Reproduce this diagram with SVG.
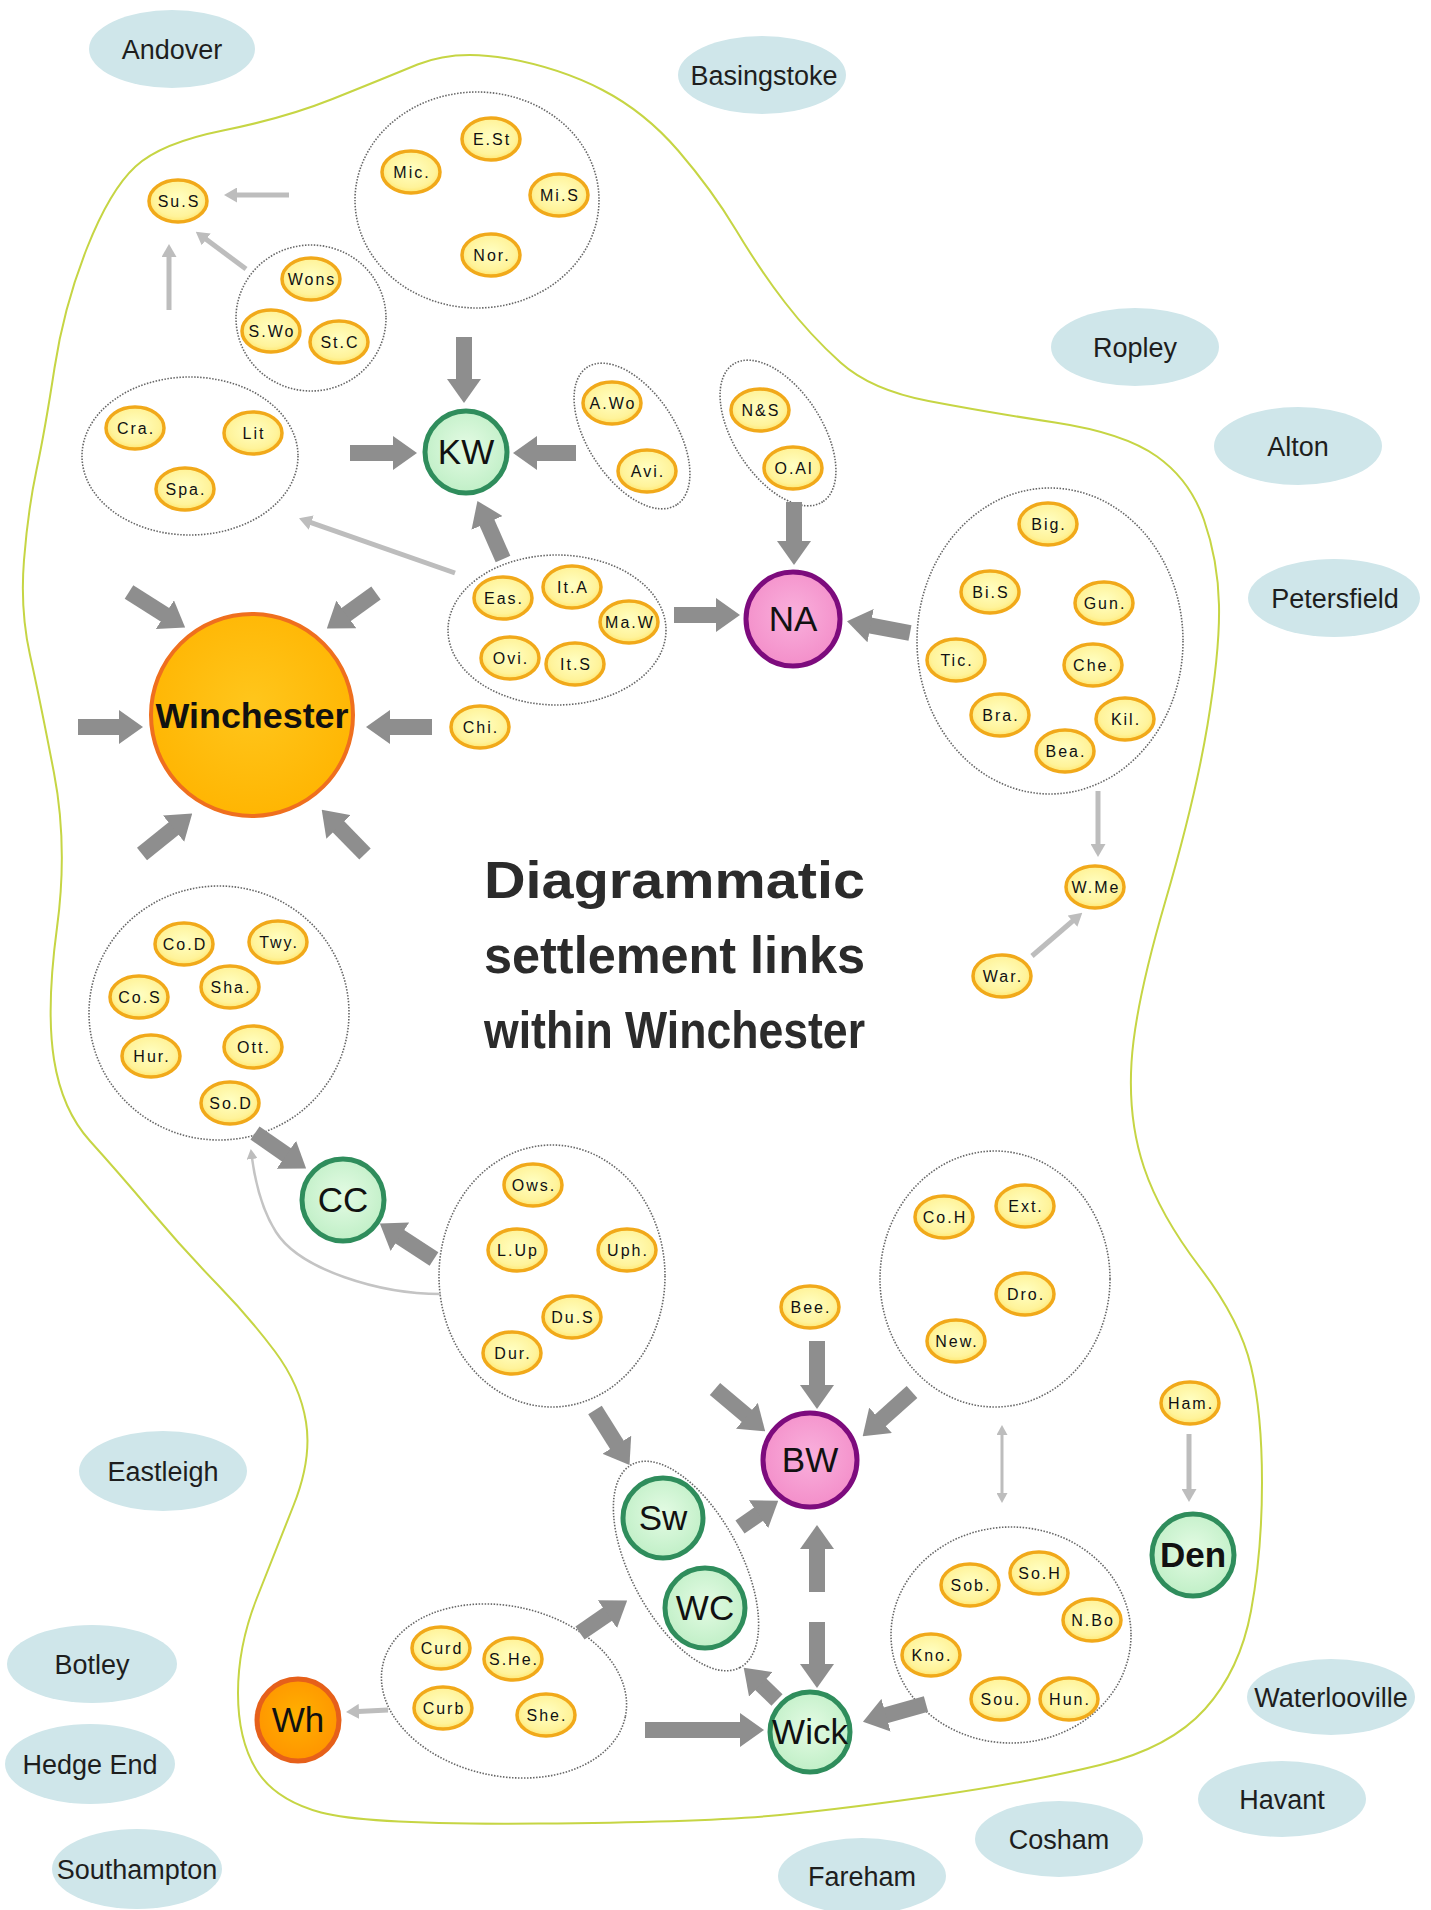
<svg xmlns="http://www.w3.org/2000/svg" width="1431" height="1910" viewBox="0 0 1431 1910">
<defs>
<radialGradient id="gy" cx="50%" cy="45%" r="60%"><stop offset="0" stop-color="#ffffc4"/><stop offset="0.7" stop-color="#fff39a"/><stop offset="1" stop-color="#ffe25e"/></radialGradient>
<radialGradient id="gg" cx="50%" cy="45%" r="60%"><stop offset="0" stop-color="#e4fbe4"/><stop offset="1" stop-color="#bdeec4"/></radialGradient>
<radialGradient id="gp" cx="50%" cy="45%" r="60%"><stop offset="0" stop-color="#f9b0dc"/><stop offset="1" stop-color="#f38cc8"/></radialGradient>
<radialGradient id="go" cx="50%" cy="45%" r="60%"><stop offset="0" stop-color="#ffc61c"/><stop offset="1" stop-color="#ffb400"/></radialGradient>
<radialGradient id="gw" cx="50%" cy="45%" r="60%"><stop offset="0" stop-color="#ffb000"/><stop offset="1" stop-color="#ff9200"/></radialGradient>
<marker id="ah" markerUnits="userSpaceOnUse" markerWidth="24" markerHeight="34" viewBox="0 0 24 34" refX="1" refY="17" orient="auto"><path d="M0,0 L24,17 L0,34 Z" fill="#8e8e8e"/></marker>
<marker id="al" markerUnits="userSpaceOnUse" markerWidth="13" markerHeight="15" viewBox="0 0 13 15" refX="1" refY="7.5" orient="auto"><path d="M0,0 L13,7.5 L0,15 Z" fill="#bdbdbd"/></marker>
<marker id="as" markerUnits="userSpaceOnUse" markerWidth="10" markerHeight="11" viewBox="0 0 10 11" refX="1" refY="5.5" orient="auto-start-reverse"><path d="M0,0 L10,5.5 L0,11 Z" fill="#bdbdbd"/></marker>
</defs>
<style>
.bnd{fill:none;stroke:#c6d544;stroke-width:2}
.town ellipse{fill:#cfe6ea}
.town text{font-family:"Liberation Sans",Arial,sans-serif;font-size:27px;fill:#1e1e1e;text-anchor:middle}
.s ellipse{fill:url(#gy);stroke:#f1a91a;stroke-width:3.5}
.s text{font-family:"Liberation Sans",Arial,sans-serif;font-size:16px;letter-spacing:2px;fill:#111;text-anchor:middle}
.grp ellipse{fill:none;stroke:#666;stroke-width:1.6;stroke-dasharray:1.5 1.5}
.hub circle{stroke-width:5}
.hub text{font-family:"Liberation Sans",Arial,sans-serif;font-size:35px;fill:#111;text-anchor:middle}
.g circle{fill:url(#gg);stroke:#2f8d5c}
.p circle{fill:url(#gp);stroke:#7d0b7d}
.thick{stroke:#8e8e8e;stroke-width:16;fill:none;marker-end:url(#ah)}
.thin{stroke:#bdbdbd;stroke-width:5;fill:none;marker-end:url(#al)}
.title{font-family:"Liberation Sans",Arial,sans-serif;font-weight:bold;font-size:52px;fill:#2b2b2b}
</style>
<rect width="1431" height="1910" fill="#ffffff"/>

<path id="boundary" class="bnd" d="M417.5,64.5 Q455,49 507.5,58.5 Q560,68 602.5,90 Q645,112 678.5,151 Q712,190 736,230 Q760,270 785,302.5 Q810,335 840.5,362.5 Q871,390 928.5,401 Q986,412 1055,422.5 Q1124,433 1157,456.5 Q1190,480 1204,520 Q1218,560 1219,605 Q1220,650 1207.5,725 Q1195,800 1165,902.5 Q1135,1005 1131.5,1062.5 Q1128,1120 1144,1167.5 Q1160,1215 1200,1267.5 Q1240,1320 1251,1366.5 Q1262,1413 1262,1482.5 Q1262,1552 1251,1611 Q1240,1670 1205,1709 Q1170,1748 1100,1765 Q1030,1782 940,1795 Q850,1808 780,1815 Q710,1822 538.5,1823.5 Q367,1825 321,1812.5 Q275,1800 256.5,1770 Q238,1740 238,1693 Q238,1646 256.5,1599 Q275,1552 293.5,1505.5 Q312,1459 306,1422 Q300,1385 275,1351.5 Q250,1318 217,1284 Q184,1250 151,1211 Q118,1172 90,1141 Q62,1110 54,1059.5 Q46,1009 57,927.5 Q68,846 54,773 Q40,700 30,655 Q20,610 24,560 Q28,510 36.5,470 Q45,430 54.5,368 Q64,306 87,248 Q110,190 135.5,166.5 Q161,143 223,130.5 Q285,118 332.5,99 Q380,80 417.5,64.5 Z"/>

<g id="towns" class="town">
<g id="t-andover"><ellipse cx="172" cy="49" rx="83" ry="39"/><text x="172" y="59">Andover</text></g>
<g id="t-basingstoke"><ellipse cx="762" cy="75" rx="84" ry="39"/><text x="764" y="85">Basingstoke</text></g>
<g id="t-ropley"><ellipse cx="1135" cy="347" rx="84" ry="39"/><text x="1135" y="357">Ropley</text></g>
<g id="t-alton"><ellipse cx="1298" cy="446" rx="84" ry="39"/><text x="1298" y="456">Alton</text></g>
<g id="t-petersfield"><ellipse cx="1334" cy="598" rx="86" ry="39"/><text x="1335" y="608">Petersfield</text></g>
<g id="t-eastleigh"><ellipse cx="163" cy="1471" rx="84" ry="40"/><text x="163" y="1481">Eastleigh</text></g>
<g id="t-botley"><ellipse cx="92" cy="1664" rx="85" ry="39"/><text x="92" y="1674">Botley</text></g>
<g id="t-hedgeend"><ellipse cx="90" cy="1764" rx="85" ry="40"/><text x="90" y="1774">Hedge End</text></g>
<g id="t-southampton"><ellipse cx="137" cy="1869" rx="85" ry="40"/><text x="137" y="1879">Southampton</text></g>
<g id="t-waterlooville"><ellipse cx="1331" cy="1697" rx="84" ry="38"/><text x="1331" y="1707">Waterlooville</text></g>
<g id="t-havant"><ellipse cx="1282" cy="1799" rx="84" ry="38"/><text x="1282" y="1809">Havant</text></g>
<g id="t-cosham"><ellipse cx="1059" cy="1839" rx="84" ry="38"/><text x="1059" y="1849">Cosham</text></g>
<g id="t-fareham"><ellipse cx="862" cy="1876" rx="84" ry="38"/><text x="862" y="1886">Fareham</text></g>
</g>

<g id="groups" class="grp">
<ellipse id="g-mic" cx="477" cy="200" rx="122" ry="108"/>
<ellipse id="g-wons" cx="311" cy="318" rx="75" ry="73"/>
<ellipse id="g-cra" cx="190" cy="456" rx="108" ry="79"/>
<ellipse id="g-awo" cx="0" cy="0" rx="82" ry="44" transform="translate(632,436) rotate(57)"/>
<ellipse id="g-ns" cx="0" cy="0" rx="82" ry="44" transform="translate(778,433) rotate(57)"/>
<ellipse id="g-big" cx="1050" cy="641" rx="133" ry="153"/>
<ellipse id="g-eas" cx="557" cy="630" rx="109" ry="75"/>
<ellipse id="g-cod" cx="219" cy="1013" rx="130" ry="127"/>
<ellipse id="g-ows" cx="552" cy="1276" rx="113" ry="131"/>
<ellipse id="g-coh" cx="995" cy="1279" rx="115" ry="128"/>
<ellipse id="g-sw" cx="0" cy="0" rx="115" ry="55" transform="translate(686,1566) rotate(62)"/>
<ellipse id="g-curd" cx="0" cy="0" rx="124" ry="85" transform="translate(504,1691) rotate(12)"/>
<ellipse id="g-sob" cx="1011" cy="1635" rx="120" ry="108"/>
</g>

<g id="connectors">
<line class="thick" x1="464" y1="337" x2="464" y2="380"/>
<line class="thick" x1="350" y1="453" x2="394" y2="453"/>
<line class="thick" x1="576" y1="453" x2="536" y2="453"/>
<line class="thick" x1="503" y1="559" x2="486.7" y2="522"/>
<line class="thick" x1="674" y1="615" x2="717" y2="615"/>
<line class="thick" x1="794" y1="502" x2="794" y2="542"/>
<line class="thick" x1="910" y1="633" x2="869.6" y2="625.4"/>
<line class="thick" x1="129" y1="592" x2="165.7" y2="615.2"/>
<line class="thick" x1="376" y1="593" x2="345.5" y2="615"/>
<line class="thick" x1="78" y1="727" x2="120" y2="727"/>
<line class="thick" x1="432" y1="727" x2="389" y2="727"/>
<line class="thick" x1="142" y1="854" x2="174.3" y2="828"/>
<line class="thick" x1="365" y1="854" x2="337.8" y2="826.2"/>
<line class="thick" x1="255" y1="1133" x2="287.2" y2="1155.3"/>
<line class="thick" x1="434" y1="1259" x2="399.1" y2="1236.2"/>
<line class="thick" x1="595" y1="1410" x2="617.3" y2="1445.6"/>
<line class="thick" x1="580" y1="1633" x2="608.2" y2="1613.6"/>
<line class="thick" x1="645" y1="1730" x2="741" y2="1730"/>
<line class="thick" x1="817" y1="1341" x2="817" y2="1386"/>
<line class="thick" x1="912" y1="1392" x2="879.8" y2="1420.9"/>
<line class="thick" x1="715" y1="1389" x2="747.6" y2="1416.5"/>
<line class="thick" x1="740" y1="1527" x2="759.3" y2="1513.7"/>
<line class="thick" x1="817" y1="1592" x2="817" y2="1548"/>
<line class="thick" x1="817" y1="1622" x2="817" y2="1665"/>
<line class="thick" x1="777" y1="1700" x2="760.2" y2="1683.7"/>
<line class="thick" x1="926" y1="1704" x2="885.1" y2="1715.5"/>
<line class="thin" x1="289" y1="195" x2="236" y2="195"/>
<line class="thin" x1="246" y1="269" x2="205.4" y2="238.8"/>
<line class="thin" x1="169" y1="310" x2="169" y2="256"/>
<line class="thin" x1="455" y1="573" x2="310.3" y2="522.3"/>
<line class="thin" x1="1098" y1="791" x2="1098" y2="845"/>
<line class="thin" x1="1032" y1="956" x2="1073.2" y2="920.5"/>
<line class="thin" x1="388" y1="1710" x2="358" y2="1711.4"/>
<line class="thin" x1="1189" y1="1434" x2="1189" y2="1490"/>
<line x1="1002" y1="1434" x2="1002" y2="1494" stroke="#bdbdbd" stroke-width="3" marker-start="url(#as)" marker-end="url(#as)"/>
<path d="M441,1294 C380,1294 300,1270 276,1232 C262,1210 255,1180 252,1158" fill="none" stroke="#c4c4c4" stroke-width="2.5" marker-end="url(#as)"/>
</g>

<g id="settlements" class="s">
<g id="n-SuS"><ellipse cx="178" cy="201" rx="29" ry="21"/><text x="179" y="207">Su.S</text></g>
<g id="n-Mic"><ellipse cx="411" cy="172" rx="29" ry="21"/><text x="412" y="178">Mic.</text></g>
<g id="n-ESt"><ellipse cx="491" cy="139" rx="29" ry="21"/><text x="492" y="145">E.St</text></g>
<g id="n-MiS"><ellipse cx="559" cy="195" rx="29" ry="21"/><text x="560" y="201">Mi.S</text></g>
<g id="n-Nor"><ellipse cx="491" cy="255" rx="29" ry="21"/><text x="492" y="261">Nor.</text></g>
<g id="n-Wons"><ellipse cx="311" cy="279" rx="29" ry="21"/><text x="312" y="285">Wons</text></g>
<g id="n-SWo"><ellipse cx="271" cy="331" rx="29" ry="21"/><text x="272" y="337">S.Wo</text></g>
<g id="n-StC"><ellipse cx="339" cy="342" rx="29" ry="21"/><text x="340" y="348">St.C</text></g>
<g id="n-Cra"><ellipse cx="135" cy="428" rx="29" ry="21"/><text x="136" y="434">Cra.</text></g>
<g id="n-Lit"><ellipse cx="253" cy="433" rx="29" ry="21"/><text x="254" y="439">Lit</text></g>
<g id="n-Spa"><ellipse cx="185" cy="489" rx="29" ry="21"/><text x="186" y="495">Spa.</text></g>
<g id="n-AWo"><ellipse cx="612" cy="403" rx="29" ry="21"/><text x="613" y="409">A.Wo</text></g>
<g id="n-Avi"><ellipse cx="647" cy="471" rx="29" ry="21"/><text x="648" y="477">Avi.</text></g>
<g id="n-NS"><ellipse cx="760" cy="410" rx="29" ry="21"/><text x="761" y="416">N&amp;S</text></g>
<g id="n-OAl"><ellipse cx="793" cy="468" rx="29" ry="21"/><text x="794" y="474">O.Al</text></g>
<g id="n-Big"><ellipse cx="1048" cy="524" rx="29" ry="21"/><text x="1049" y="530">Big.</text></g>
<g id="n-BiS"><ellipse cx="990" cy="592" rx="29" ry="21"/><text x="991" y="598">Bi.S</text></g>
<g id="n-Gun"><ellipse cx="1104" cy="603" rx="29" ry="21"/><text x="1105" y="609">Gun.</text></g>
<g id="n-Tic"><ellipse cx="956" cy="660" rx="29" ry="21"/><text x="957" y="666">Tic.</text></g>
<g id="n-Che"><ellipse cx="1093" cy="665" rx="29" ry="21"/><text x="1094" y="671">Che.</text></g>
<g id="n-Bra"><ellipse cx="1000" cy="715" rx="29" ry="21"/><text x="1001" y="721">Bra.</text></g>
<g id="n-Kil"><ellipse cx="1125" cy="719" rx="29" ry="21"/><text x="1126" y="725">Kil.</text></g>
<g id="n-Bea"><ellipse cx="1065" cy="751" rx="29" ry="21"/><text x="1066" y="757">Bea.</text></g>
<g id="n-Eas"><ellipse cx="503" cy="598" rx="29" ry="21"/><text x="504" y="604">Eas.</text></g>
<g id="n-ItA"><ellipse cx="572" cy="587" rx="29" ry="21"/><text x="573" y="593">It.A</text></g>
<g id="n-MaW"><ellipse cx="629" cy="622" rx="29" ry="21"/><text x="630" y="628">Ma.W</text></g>
<g id="n-Ovi"><ellipse cx="510" cy="658" rx="29" ry="21"/><text x="511" y="664">Ovi.</text></g>
<g id="n-ItS"><ellipse cx="575" cy="664" rx="29" ry="21"/><text x="576" y="670">It.S</text></g>
<g id="n-Chi"><ellipse cx="480" cy="727" rx="29" ry="21"/><text x="481" y="733">Chi.</text></g>
<g id="n-WMe"><ellipse cx="1095" cy="887" rx="29" ry="21"/><text x="1096" y="893">W.Me</text></g>
<g id="n-War"><ellipse cx="1002" cy="976" rx="29" ry="21"/><text x="1003" y="982">War.</text></g>
<g id="n-CoD"><ellipse cx="184" cy="944" rx="29" ry="21"/><text x="185" y="950">Co.D</text></g>
<g id="n-Twy"><ellipse cx="278" cy="942" rx="29" ry="21"/><text x="279" y="948">Twy.</text></g>
<g id="n-CoS"><ellipse cx="139" cy="997" rx="29" ry="21"/><text x="140" y="1003">Co.S</text></g>
<g id="n-Sha"><ellipse cx="230" cy="987" rx="29" ry="21"/><text x="231" y="993">Sha.</text></g>
<g id="n-Hur"><ellipse cx="151" cy="1056" rx="29" ry="21"/><text x="152" y="1062">Hur.</text></g>
<g id="n-Ott"><ellipse cx="253" cy="1047" rx="29" ry="21"/><text x="254" y="1053">Ott.</text></g>
<g id="n-SoD"><ellipse cx="230" cy="1103" rx="29" ry="21"/><text x="231" y="1109">So.D</text></g>
<g id="n-Ows"><ellipse cx="533" cy="1185" rx="29" ry="21"/><text x="534" y="1191">Ows.</text></g>
<g id="n-LUp"><ellipse cx="517" cy="1250" rx="29" ry="21"/><text x="518" y="1256">L.Up</text></g>
<g id="n-Uph"><ellipse cx="627" cy="1250" rx="29" ry="21"/><text x="628" y="1256">Uph.</text></g>
<g id="n-DuS"><ellipse cx="572" cy="1317" rx="29" ry="21"/><text x="573" y="1323">Du.S</text></g>
<g id="n-Dur"><ellipse cx="512" cy="1353" rx="29" ry="21"/><text x="513" y="1359">Dur.</text></g>
<g id="n-CoH"><ellipse cx="944" cy="1217" rx="29" ry="21"/><text x="945" y="1223">Co.H</text></g>
<g id="n-Ext"><ellipse cx="1025" cy="1206" rx="29" ry="21"/><text x="1026" y="1212">Ext.</text></g>
<g id="n-Dro"><ellipse cx="1025" cy="1294" rx="29" ry="21"/><text x="1026" y="1300">Dro.</text></g>
<g id="n-New"><ellipse cx="956" cy="1341" rx="29" ry="21"/><text x="957" y="1347">New.</text></g>
<g id="n-Bee"><ellipse cx="810" cy="1307" rx="29" ry="21"/><text x="811" y="1313">Bee.</text></g>
<g id="n-Ham"><ellipse cx="1190" cy="1403" rx="29" ry="21"/><text x="1191" y="1409">Ham.</text></g>
<g id="n-Sob"><ellipse cx="970" cy="1585" rx="29" ry="21"/><text x="971" y="1591">Sob.</text></g>
<g id="n-SoH"><ellipse cx="1039" cy="1573" rx="29" ry="21"/><text x="1040" y="1579">So.H</text></g>
<g id="n-NBo"><ellipse cx="1092" cy="1620" rx="29" ry="21"/><text x="1093" y="1626">N.Bo</text></g>
<g id="n-Kno"><ellipse cx="931" cy="1655" rx="29" ry="21"/><text x="932" y="1661">Kno.</text></g>
<g id="n-Sou"><ellipse cx="1000" cy="1699" rx="29" ry="21"/><text x="1001" y="1705">Sou.</text></g>
<g id="n-Hun"><ellipse cx="1069" cy="1699" rx="29" ry="21"/><text x="1070" y="1705">Hun.</text></g>
<g id="n-Curd"><ellipse cx="441" cy="1648" rx="29" ry="21"/><text x="442" y="1654">Curd</text></g>
<g id="n-SHe"><ellipse cx="513" cy="1659" rx="29" ry="21"/><text x="514" y="1665">S.He.</text></g>
<g id="n-Curb"><ellipse cx="443" cy="1708" rx="29" ry="21"/><text x="444" y="1714">Curb</text></g>
<g id="n-She"><ellipse cx="546" cy="1715" rx="29" ry="21"/><text x="547" y="1721">She.</text></g>
</g>

<g id="hubs" class="hub">
<g id="h-Winchester"><circle cx="252" cy="715" r="101" fill="url(#go)" stroke="#ef6f1e" style="stroke-width:4"/><text x="252" y="728" font-weight="bold" textLength="193" lengthAdjust="spacingAndGlyphs">Winchester</text></g>
<g id="h-KW" class="g"><circle cx="466" cy="452" r="41"/><text x="466" y="464">KW</text></g>
<g id="h-NA" class="p"><circle cx="793" cy="619" r="47"/><text x="793" y="631">NA</text></g>
<g id="h-CC" class="g"><circle cx="343" cy="1200" r="41"/><text x="343" y="1212">CC</text></g>
<g id="h-BW" class="p"><circle cx="810" cy="1460" r="47"/><text x="810" y="1472">BW</text></g>
<g id="h-Sw" class="g"><circle cx="663" cy="1518" r="40"/><text x="663" y="1530">Sw</text></g>
<g id="h-WC" class="g"><circle cx="705" cy="1608" r="40"/><text x="705" y="1620">WC</text></g>
<g id="h-Wick" class="g"><circle cx="810" cy="1732" r="40"/><text x="810" y="1744">Wick</text></g>
<g id="h-Wh"><circle cx="298" cy="1720" r="41" fill="url(#gw)" stroke="#e6601a"/><text x="298" y="1732">Wh</text></g>
<g id="h-Den" class="g"><circle cx="1193" cy="1555" r="41"/><text x="1193" y="1567" font-weight="bold" font-size="34">Den</text></g>
</g>

<g id="title" class="title">
<text x="484" y="898" textLength="381" lengthAdjust="spacingAndGlyphs">Diagrammatic</text>
<text x="484" y="973" textLength="381" lengthAdjust="spacingAndGlyphs">settlement links</text>
<text x="484" y="1048" textLength="381" lengthAdjust="spacingAndGlyphs">within Winchester</text>
</g>
</svg>
